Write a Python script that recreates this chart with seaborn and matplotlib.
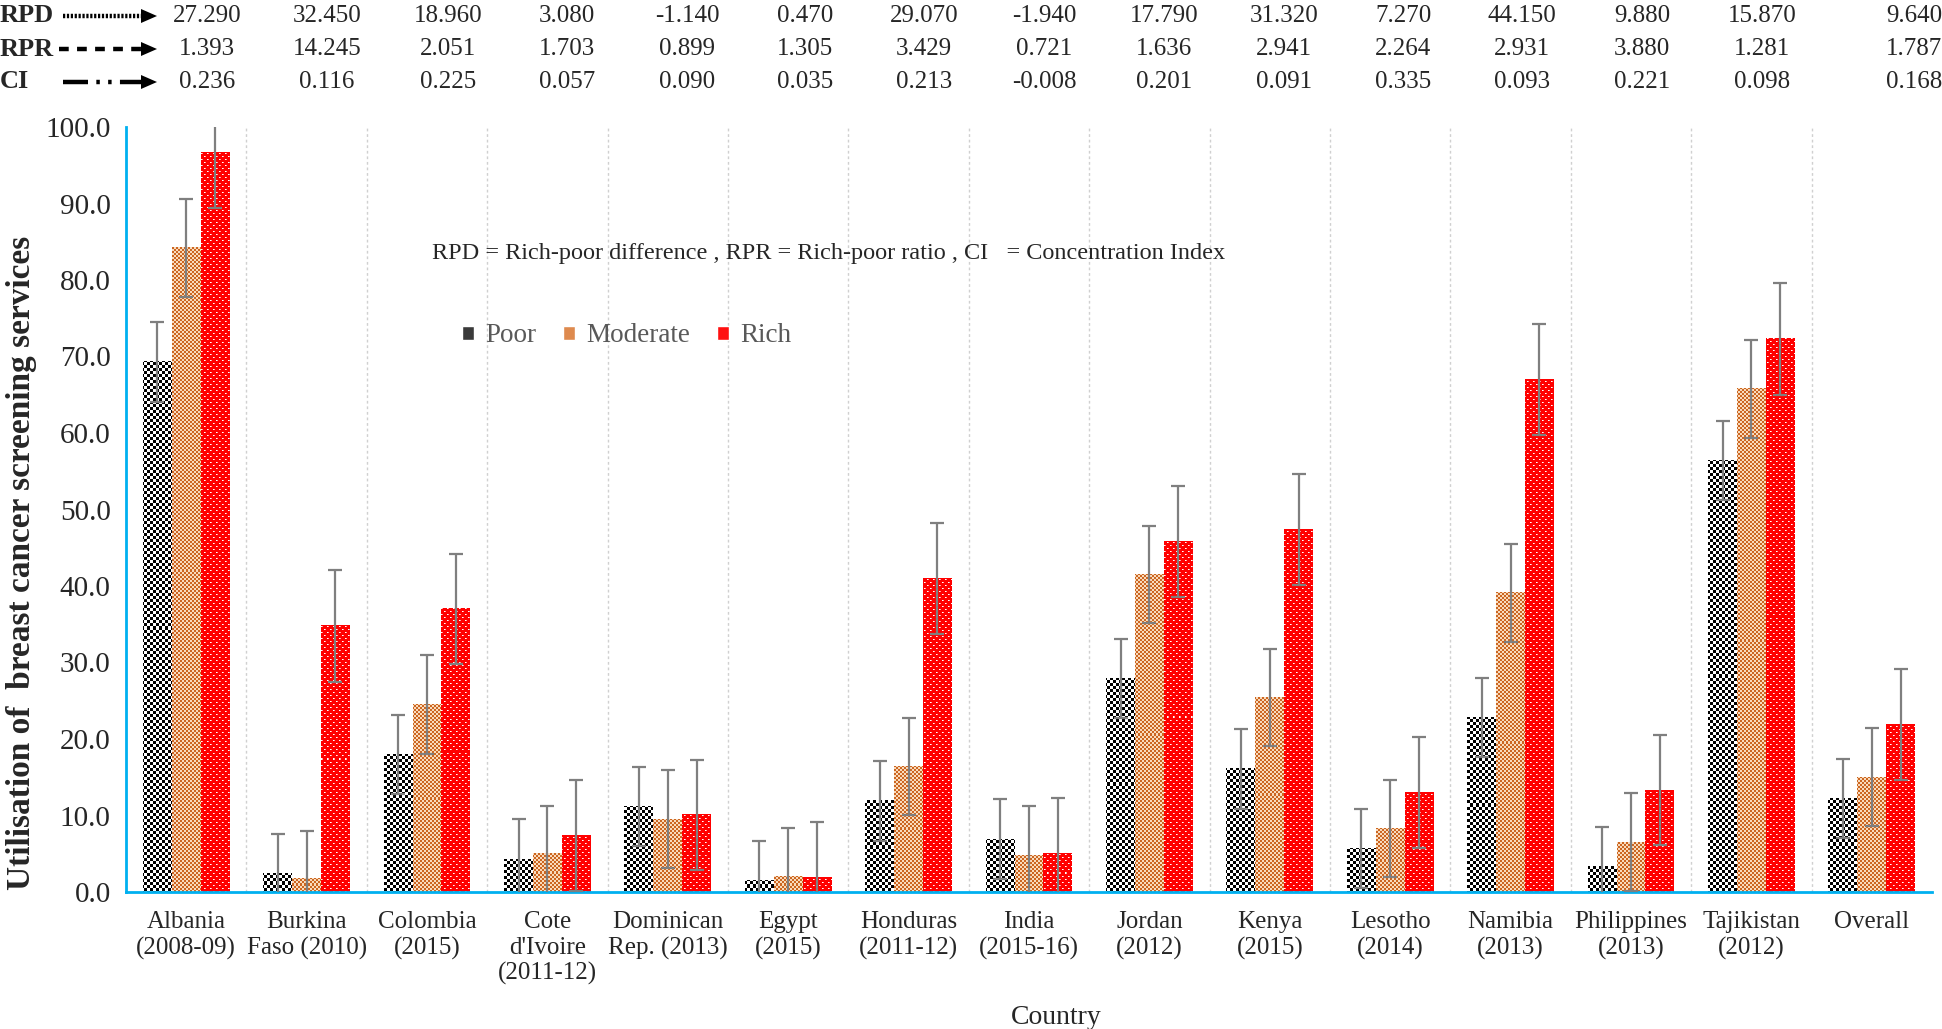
import numpy as np
import pandas as pd
import matplotlib
matplotlib.use("Agg")
import matplotlib.pyplot as plt
import seaborn as sns
from matplotlib.patches import Patch, Polygon
from matplotlib.lines import Line2D

# ---------------- data ----------------
countries = ["Albania\n(2008-09)", "Burkina\nFaso (2010)", "Colombia\n(2015)",
             "Cote\nd'Ivoire\n(2011-12)", "Dominican\nRep. (2013)", "Egypt\n(2015)",
             "Honduras\n(2011-12)", "India\n(2015-16)", "Jordan\n(2012)", "Kenya\n(2015)",
             "Lesotho\n(2014)", "Namibia\n(2013)", "Philippines\n(2013)",
             "Tajikistan\n(2012)", "Overall"]
groups = ["Poor", "Moderate", "Rich"]
poor = [69.3, 2.4, 18.0, 4.3, 11.2, 1.5, 11.9, 6.9, 27.9, 16.1, 5.7, 22.8, 3.3, 56.4, 12.2]
moderate = [84.2, 1.7, 24.5, 5.0, 9.5, 2.0, 16.4, 4.8, 41.5, 25.4, 8.3, 39.1, 6.5, 65.8, 15.0]
rich = [96.7, 34.8, 37.0, 7.4, 10.1, 1.9, 41.0, 5.0, 45.8, 47.4, 13.0, 67.0, 13.3, 72.3, 21.9]
poor_err = [5.2, 5.2, 5.2, 5.2, 5.2, 5.2, 5.2, 5.2, 5.2, 5.2, 5.2, 5.2, 5.2, 5.2, 5.2]
moderate_err = [6.4, 6.3, 6.5, 6.3, 6.4, 6.4, 6.3, 6.4, 6.4, 6.3, 6.4, 6.4, 6.4, 6.4, 6.4]
rich_err = [7.3, 7.3, 7.2, 7.3, 7.2, 7.3, 7.3, 7.3, 7.3, 7.3, 7.2, 7.3, 7.2, 7.3, 7.2]
rpd = ["27.290", "32.450", "18.960", "3.080", "-1.140", "0.470", "29.070", "-1.940",
       "17.790", "31.320", "7.270", "44.150", "9.880", "15.870", "9.640"]
rpr = ["1.393", "14.245", "2.051", "1.703", "0.899", "1.305", "3.429", "0.721",
       "1.636", "2.941", "2.264", "2.931", "3.880", "1.281", "1.787"]
ci = ["0.236", "0.116", "0.225", "0.057", "0.090", "0.035", "0.213", "-0.008",
      "0.201", "0.091", "0.335", "0.093", "0.221", "0.098", "0.168"]

values = {"Poor": poor, "Moderate": moderate, "Rich": rich}
errors = {"Poor": poor_err, "Moderate": moderate_err, "Rich": rich_err}
df = pd.DataFrame([{"Country": c, "Group": g, "Value": values[g][i]}
                   for g in groups for i, c in enumerate(countries)])

# ---------------- style ----------------
sns.set_style("white")
plt.rcParams["font.family"] = ["Liberation Serif", "DejaVu Serif"]
plt.rcParams["lines.scale_dashes"] = False
CYAN = "#00B0F0"
W, H = 1942, 1029

fig = plt.figure(figsize=(W / 100, H / 100), dpi=100)
ax = fig.add_axes([126 / W, (H - 892) / H, (1932 - 126) / W, (892 - 127) / H])

palette = {"Poor": "#555555", "Moderate": "#E09A66", "Rich": "#FF1A1A"}
sns.barplot(data=df, x="Country", y="Value", hue="Group", hue_order=groups,
            palette=palette, width=0.72, gap=0, errorbar=None, saturation=1,
            linewidth=0, legend=False, ax=ax)
ax.set_xlim(-0.5, len(countries) - 0.5)
ax.set_ylim(0, 100)


# ---------------- pattern fills (clipped to seaborn bars) ----------------
def pattern(kind, X, Y):
    img = np.ones(X.shape + (3,))
    if kind == "Poor":
        m = ((X // 3 + Y // 3) % 2) == 0
        img[m] = (0, 0, 0)
    elif kind == "Moderate":
        m = ((X // 2 + Y // 2) % 2) == 0
        img[:] = (0.98, 0.86, 0.74)
        img[m] = (0.80, 0.40, 0.13)
    else:
        img[:] = (1.0, 0.0, 0.0)
        d1 = (X % 6 == 0) & (Y % 6 == 0)
        d2 = (X % 6 == 3) & (Y % 6 == 3)
        img[d1 | d2] = (1, 1, 1)
        e1 = (X % 6 == 1) & (Y % 6 == 0)
        e2 = (X % 6 == 4) & (Y % 6 == 3)
        img[e1 | e2] = (1, 0.65, 0.65)
    return img


for gi, g in enumerate(groups):
    for bar in ax.containers[gi]:
        x0, w, h = bar.get_x(), bar.get_width(), bar.get_height()
        (px0, py0) = ax.transData.transform((x0, 0))
        (px1, py1) = ax.transData.transform((x0 + w, h))
        nc = max(int(round(px1 - px0)), 1)
        nr = max(int(round(py1 - py0)), 1)
        cols = np.arange(nc) + int(round(px0))
        rows = np.arange(nr) + int(round(H - py1))
        X, Y = np.meshgrid(cols, rows)
        ax.imshow(pattern(g, X, Y), extent=(x0, x0 + w, 0, h), aspect="auto",
                  interpolation="nearest", zorder=bar.get_zorder() + 0.01)

# ---------------- error bars ----------------
for gi, g in enumerate(groups):
    bars = ax.containers[gi]
    xs = [b.get_x() + b.get_width() / 2 for b in bars]
    hs = [b.get_height() for b in bars]
    ax.errorbar(xs, hs, yerr=errors[g], fmt="none", ecolor="#7F7F7F",
                elinewidth=1.6, capsize=5, capthick=1.6, zorder=5)

ax.set_xlim(-0.5, len(countries) - 0.5)
ax.set_ylim(0, 100)

# ---------------- axes styling ----------------
for s in ["top", "right"]:
    ax.spines[s].set_visible(False)
for s in ["left", "bottom"]:
    ax.spines[s].set_color(CYAN)
    ax.spines[s].set_linewidth(2)
ax.set_yticks(np.arange(0, 101, 10))
ax.set_yticklabels([f"{v:.1f}" for v in np.arange(0, 101, 10)])
ax.tick_params(axis="y", direction="out", length=7, width=1.6, color=CYAN,
               labelsize=21, pad=4)
ax.set_xticks(range(len(countries)))
ax.set_xticklabels(countries)
ax.set_xticks(np.arange(-0.5, len(countries), 1.0), minor=True)
ax.tick_params(axis="x", which="major", length=0, labelsize=18, pad=14)
ax.tick_params(axis="x", which="minor", direction="out", length=6, width=1.6,
               color=CYAN)
for xb in np.arange(0.5, len(countries) - 1, 1.0):
    ax.axvline(xb, color="#D0D0D0", lw=1, ls=(0, (2, 2)), zorder=0)
ax.set_xlabel("")
ax.set_ylabel("")

fig.text(22 / W, 1 - 563 / H, "Utilisation of  breast cancer screening services",
         rotation=90, ha="center", va="center", fontsize=24, fontweight="bold")
fig.text(1056 / W, 1 - 1018 / H, "Country", ha="center", va="center", fontsize=20)

fig.text(829 / W, 1 - 253 / H,
         "RPD = Rich-poor difference , RPR = Rich-poor ratio , CI   = Concentration Index",
         ha="center", va="center", fontsize=17.5)

handles = [Patch(facecolor="#3A3A3A"), Patch(facecolor="#DE8A4E"),
           Patch(facecolor="#FF1010")]
leg = fig.legend(handles, groups, loc="center left",
                 bbox_to_anchor=(462 / W, 1 - 336 / H), ncol=3, frameon=False,
                 fontsize=19.5, handlelength=0.45, handleheight=0.45,
                 handletextpad=0.4, columnspacing=1.0, borderpad=0, borderaxespad=0)
for t in leg.get_texts():
    t.set_color("#595959")

# ---------------- top indicator table ----------------
col_x = [207, 327, 448, 567, 687, 805, 924, 1044, 1164, 1284, 1403, 1522, 1642, 1762, 1914]
row_y = [16, 49, 82]
row_names = ["RPD", "RPR", "CI"]
row_vals = [rpd, rpr, ci]
row_styles = [(0, (1.6, 1.2)), (0, (7, 6)), (0, (18, 6, 2.5, 6, 2.5, 6))]


def fxy(x, y):
    return (x / W, 1 - y / H)


for name, vals, y, ls in zip(row_names, row_vals, row_y, row_styles):
    fig.text(0 / W, 1 - y / H, name, ha="left", va="center", fontsize=19,
             fontweight="bold")
    x0 = 63 if name != "RPR" else 59
    line = Line2D([x0 / W, 143 / W], [1 - y / H, 1 - y / H], transform=fig.transFigure,
                  color="black", lw=3.2, ls=ls, solid_capstyle="butt",
                  dash_capstyle="butt")
    fig.add_artist(line)
    tri = Polygon([fxy(141, y - 7), fxy(157, y), fxy(141, y + 7)], closed=True,
                  transform=fig.transFigure, facecolor="black", edgecolor="none")
    fig.add_artist(tri)
    for cx, v in zip(col_x, vals):
        fig.text(cx / W, 1 - y / H, v, ha="center", va="center", fontsize=18)

fig.savefig("out.png", dpi=100)
